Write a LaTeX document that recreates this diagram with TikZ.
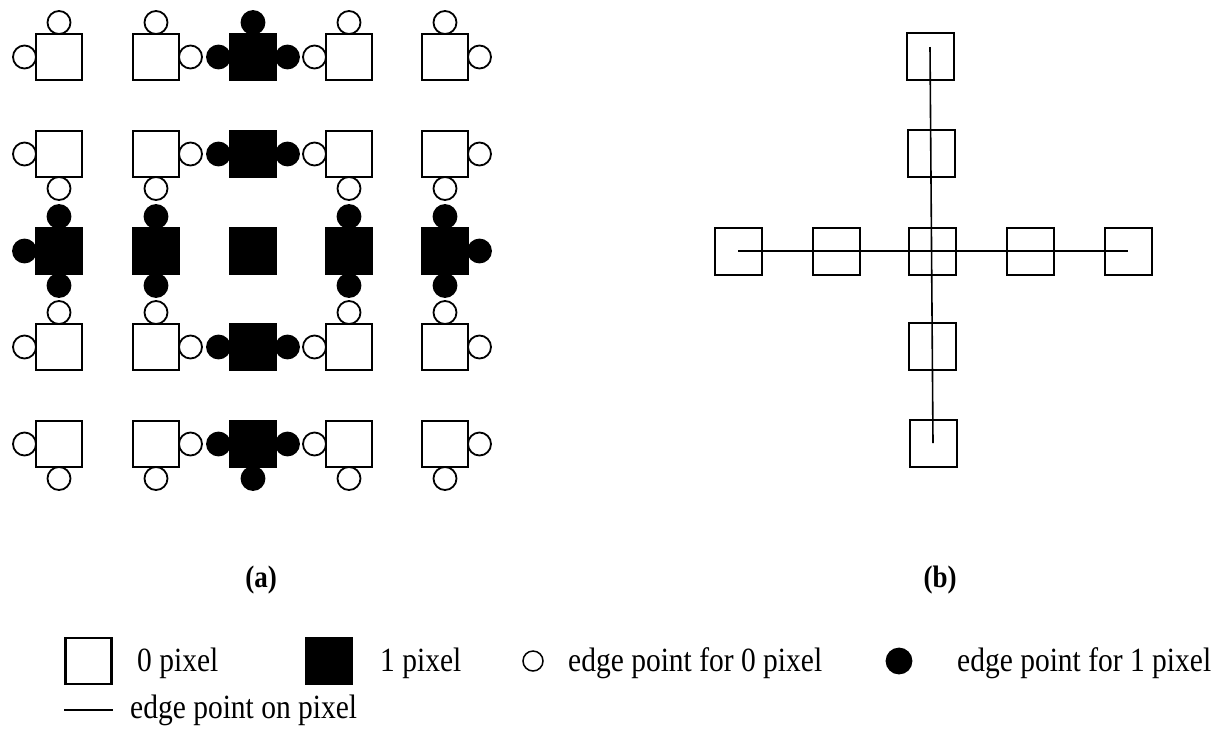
\documentclass[tikz,border=0pt]{standalone}
\usepackage{fontspec}
\setmainfont{Liberation Serif}
\usepackage{graphicx}
\usetikzlibrary{calc}
% slightly tall lettering, as in the printed figure
\newcommand\tall[1]{\scalebox{1}[1.15]{#1}}

\begin{document}
\begin{tikzpicture}[x=1pt,y=-1pt,
  pix/.style={draw=black, line width=2.2pt, minimum size=46pt, inner sep=0pt, outer sep=0pt},
  zero/.style={pix, fill=white},
  one/.style={pix, fill=black},
  ept/.style={circle, draw=black, line width=1.8pt, minimum size=23pt, inner sep=0pt, outer sep=0pt},
  ezero/.style={ept, fill=white},
  eone/.style={ept, fill=black},
  cell/.style={draw=black, line width=2pt, minimum size=47pt, inner sep=0pt},
  axis/.style={line width=1.6pt},
  lbl/.style={inner sep=0pt, font=\fontsize{27}{30}\selectfont\bfseries},
  legtext/.style={inner sep=0pt, anchor=base west, font=\fontsize{29.5}{34}\selectfont},
]
\fill[white] (0,0) rectangle (1228,732);
\useasboundingbox (0,0) rectangle (1228,732);

% (a) 5x5 binary image: the middle row and the middle column are 1 pixels
\foreach \r/\y in {1/57,2/154,3/251,4/347,5/444}{
  \foreach \c/\x in {1/59,2/156,3/253,4/349,5/445}{
    \pgfmathtruncatemacro\v{(\r==3)||(\c==3)}
    \ifnum\v=1
      \node[one] (p\r\c) at (\x,\y) {};
    \else
      \node[zero] (p\r\c) at (\x,\y) {};
    \fi
  }
}

% edge points of 0 pixels
\foreach \p/\s/\o in {
  p11/north/south, p11/west/east, p12/north/south, p12/east/west,
  p14/north/south, p14/west/east, p15/north/south, p15/east/west,
  p21/west/east, p21/south/north, p22/east/west, p22/south/north,
  p24/west/east, p24/south/north, p25/east/west, p25/south/north,
  p41/north/south, p41/west/east, p42/north/south, p42/east/west,
  p44/north/south, p44/west/east, p45/north/south, p45/east/west,
  p51/west/east, p51/south/north, p52/east/west, p52/south/north,
  p54/west/east, p54/south/north, p55/east/west, p55/south/north}
  \node[ezero, anchor=\o] (e\p\s) at (\p.\s) {};

% edge points of 1 pixels
\foreach \p/\s/\o in {
  p13/north/south, p13/west/east, p13/east/west,
  p23/west/east, p23/east/west,
  p31/north/south, p31/west/east, p31/south/north,
  p32/north/south, p32/south/north,
  p34/north/south, p34/south/north,
  p35/north/south, p35/east/west, p35/south/north,
  p43/west/east, p43/east/west,
  p53/west/east, p53/east/west, p53/south/north}
  \node[eone, anchor=\o] (e\p\s) at (\p.\s) {};

% (b) edge points lying on the pixels
\node[cell] (v1) at (930,56) {};
\node[cell] (v2) at (931,153) {};
\node[cell] (h1) at (738,251) {};
\node[cell] (h2) at (836,251) {};
\node[cell] (cc) at (932,251) {};
\node[cell] (h4) at (1030,251) {};
\node[cell] (h5) at (1128,251) {};
\node[cell] (v4) at (932,346) {};
\node[cell] (v5) at (933,443) {};
\draw[axis] (h1.center) -- (h5.center);
\draw[axis] ($(v1.center)+(0,-9)$) -- (v5.center);

% captions
\node[lbl] (la) at (261,580) {\tall{(a)}};
\node[lbl] (lb) at (940,580) {\tall{(b)}};

% legend
\node[zero] (k0) at (88.5,661) {};
\node[legtext] (t0) at (137,671) {\tall{0 pixel}};
\node[one] (k1) at (329,661) {};
\node[legtext] (t1) at (380,671) {\tall{1 pixel}};
\node[ezero, minimum size=20pt, line width=1.5pt] (k2) at (533,661) {};
\node[legtext] (t2) at (568,671) {\tall{edge point for 0 pixel}};
\node[eone, minimum size=25pt] (k3) at (899,661) {};
\node[legtext] (t3) at (957,671) {\tall{edge point for 1 pixel}};
\coordinate (k4a) at (64,710);
\coordinate (k4b) at (113,710);
\draw[line width=2.4pt] (k4a) -- (k4b);
\node[legtext] (t4) at (130,718) {\tall{edge point on pixel}};
\end{tikzpicture}
\end{document}
